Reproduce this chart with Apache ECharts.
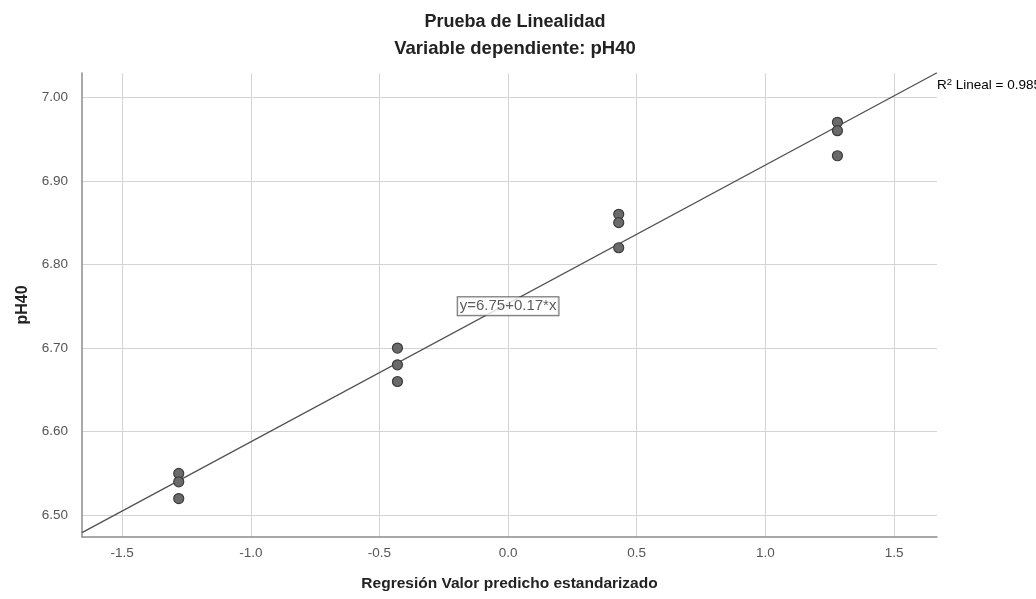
<!DOCTYPE html>
<html>
<head>
<meta charset="utf-8">
<script src="https://cdn.jsdelivr.net/npm/echarts@6/dist/echarts.min.js"></script>
<style>
html,body{margin:0;padding:0;background:#fff;}
#chart{width:1036px;height:599px;}
</style>
</head>
<body>
<div id="chart"></div>
<script>
// Data
const xValues = [-1.28, -1.28, -1.28, -0.43, -0.43, -0.43, 0.43, 0.43, 0.43, 1.28, 1.28, 1.28];
const yValues = [6.55, 6.54, 6.52, 6.70, 6.68, 6.66, 6.86, 6.85, 6.82, 6.97, 6.96, 6.93];
const xTicks = [-1.5, -1.0, -0.5, 0.0, 0.5, 1.0, 1.5];
const yTicks = [6.50, 6.60, 6.70, 6.80, 6.90, 7.00];
const xRange = [-1.656, 1.667];
const yRange = [6.474, 7.029];
const titleText = 'Prueba de Linealidad';
const subtitleText = 'Variable dependiente: pH40';
const xName = 'Regresión Valor predicho estandarizado';
const yName = 'pH40';
const equationText = 'y=6.75+0.17*x';
const r2Text = '0.985';

// least squares fit from the points
const n = xValues.length;
const mx = xValues.reduce((a, b) => a + b, 0) / n;
const my = yValues.reduce((a, b) => a + b, 0) / n;
let sxy = 0, sxx = 0;
for (let i = 0; i < n; i++) { sxy += (xValues[i] - mx) * (yValues[i] - my); sxx += (xValues[i] - mx) ** 2; }
const slope = sxy / sxx;
const intercept = my - slope * mx;
const fitLine = xRange.map(x => [x, intercept + slope * x]);
const points = xValues.map((x, i) => [x, yValues[i]]);

const FONT = '"Liberation Sans", Arial, sans-serif';
const chart = echarts.init(document.getElementById('chart'), null, {renderer: 'canvas'});
chart.setOption({
  animation: false,
  backgroundColor: '#fff',
  textStyle: {fontFamily: FONT},
  grid: {left: 82, right: 99, top: 73, bottom: 62, containLabel: false},
  title: [
    {text: titleText, left: 510, textAlign: 'center', top: 8,
     textStyle: {fontFamily: FONT, fontSize: 18, fontWeight: 'bold', color: '#222'}},
    {text: subtitleText, left: 510, textAlign: 'center', top: 34,
     textStyle: {fontFamily: FONT, fontSize: 18.5, fontWeight: 'bold', color: '#222'}}
  ],
  xAxis: {
    type: 'value', min: xRange[0], max: xRange[1],
    name: xName, nameLocation: 'middle', nameGap: 39,
    nameTextStyle: {fontFamily: FONT, fontSize: 15.5, fontWeight: 'bold', color: '#222'},
    axisLine: {show: true, onZero: false, lineStyle: {color: '#8c8c8c', width: 1.5}},
    axisTick: {show: false, customValues: xTicks},
    axisLabel: {customValues: xTicks, formatter: v => v.toFixed(1), color: '#555', fontSize: 13.5, margin: 9, fontFamily: FONT},
    splitLine: {show: true, lineStyle: {color: '#d4d4d4', width: 1}}
  },
  yAxis: {
    type: 'value', min: yRange[0], max: yRange[1],
    name: yName, nameLocation: 'middle', nameGap: 46, nameRotate: 90,
    nameTextStyle: {fontFamily: FONT, fontSize: 16, fontWeight: 'bold', color: '#222'},
    axisLine: {show: true, onZero: false, lineStyle: {color: '#8c8c8c', width: 1.5}},
    axisTick: {show: false, customValues: yTicks},
    axisLabel: {customValues: yTicks, formatter: v => v.toFixed(2), color: '#555', fontSize: 13.5, margin: 14, fontFamily: FONT},
    splitLine: {show: true, lineStyle: {color: '#d4d4d4', width: 1}}
  },
  series: [
    {
      type: 'line', data: fitLine, showSymbol: false, symbol: 'none',
      lineStyle: {color: '#505050', width: 1.3}, z: 3, silent: true
    },
    {
      type: 'scatter', data: points, symbolSize: 10,
      itemStyle: {color: '#6a6a6a', borderColor: '#3c3c3c', borderWidth: 1.2, opacity: 1}, z: 4
    },
    {
      type: 'scatter', data: [[0, Number(intercept.toFixed(2))]], symbolSize: 0, z: 5, silent: true,
      label: {show: true, position: 'inside', formatter: equationText, color: '#333', fontSize: 15,
              fontFamily: FONT, backgroundColor: '#fff', borderColor: '#444', borderWidth: 1, padding: [2, 2, 1, 2]}
    }
  ],
  graphic: [
    {type: 'text', left: 937, top: 77, z: 10,
     style: {text: '{a|R}{s|2}{a| Lineal = ' + r2Text + '}', fontFamily: FONT,
       rich: {a: {fontSize: 13.5, color: '#333', fontFamily: FONT}, s: {fontSize: 9.5, color: '#333', verticalAlign: 'top', padding: [0,0,7,0], fontFamily: FONT}}}}
  ]
});
</script>
</body>
</html>
